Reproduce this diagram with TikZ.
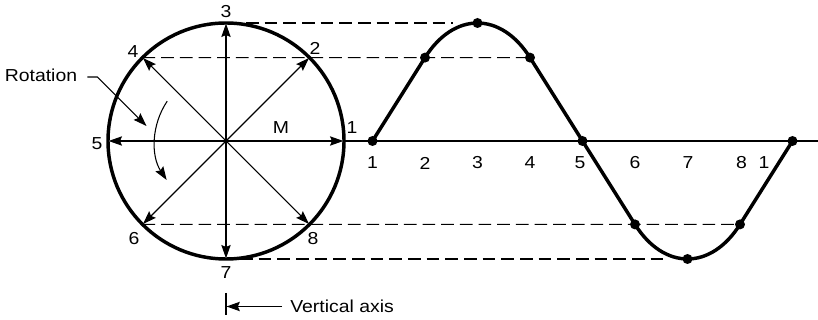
\documentclass[tikz,border=0pt]{standalone}
\usepackage{fontspec}
\setmainfont[FakeStretch=1.12]{Liberation Sans}
\usetikzlibrary{arrows.meta, calc}

\tikzset{
  heavy/.style={line width=2.6pt},
  thinline/.style={line width=0.8pt},
  ray/.style={line width=0.8pt, -{Stealth[length=10pt,width=7pt,inset=1.5pt]}},
  proj/.style={line width=0.8pt, dash pattern=on 9.5pt off 4.5pt},
  lbl/.style={inner sep=0pt, font=\fontsize{13}{15}\selectfont},
}

\begin{document}
\begin{tikzpicture}[x=0.75pt, y=-0.75pt]
    \useasboundingbox (0,0) rectangle (818,320);

    % Rotating vector circle
    \coordinate (ctr) at (226,141);
    \foreach \k in {1,...,8}
        \coordinate (c\k) at ($(ctr)+({-(\k-1)*45}:118)$);

    % Sine points
    \foreach \k/\y in {1/141, 2/57.6, 3/23, 4/57.6, 5/141, 6/224.4, 7/259, 8/224.4, 9/141}
        \coordinate (s\k) at ({372.5+(\k-1)*52.5},\y);

    % Projection lines
    \coordinate (d3) at (246,23);
    \coordinate (e3) at (453,23);
    \coordinate (d7) at (240,259);
    \coordinate (e7) at (664,259);
    \draw[proj] (d3) -- (e3);
    \draw[proj] (c4) -- (s4);
    \draw[proj] (c6) -- (s8);
    \draw[proj] (d7) -- (e7);

    % Horizontal axis
    \coordinate (axend) at (818,141);
    \draw[thinline] (c1) -- (axend);

    % Vectors
    \foreach \k in {1,...,8}
        \draw[ray, shorten >=0.5pt] (ctr) -- (c\k);
    \draw[heavy] (ctr) circle [radius=118];

    % Sine wave
    \draw[heavy, line join=round] (s1) -- (s2)
        .. controls +(29,-46.1) and +(-29,-46.1) .. (s4) -- (s6)
        .. controls +(29,46.1) and +(-29,46.1) .. (s8) -- (s9);
    \foreach \k in {1,...,9}
        \fill (s\k) circle [radius=5];

    % Circle labels
    \node[lbl] (l3) at (226,12) {3};
    \node[lbl] (l4) at (133,52) {4};
    \node[lbl] (l2) at (315,48) {2};
    \node[lbl] (l1) at (352,128) {1};
    \node[lbl] (l5) at (97,144) {5};
    \node[lbl] (lm) at (281,128) {M};
    \node[lbl] (l6) at (134,239) {6};
    \node[lbl] (l8) at (313,239) {8};
    \node[lbl] (l7) at (226,273) {7};

    % Axis labels
    \foreach \t/\x in {1/372.5, 2/425, 3/477.5, 4/530, 5/580, 6/635, 7/688, 8/741.5, 1/764}
        \node[lbl] at (\x,163) {\t};

    % Rotation
    \node[lbl] (rot) at (41,75) {Rotation};
    \coordinate (rottip) at (146.5,126);
    \draw[ray] ($(rot.east)+(10,2)$) -- ++(10,0) -- (rottip);
    \coordinate (arcstart) at ($(ctr)+(214.1:71)$);
    \draw[ray] (arcstart) arc[start angle=214.1, end angle=146.7, radius=71];

    % Vertical axis
    \coordinate (vtop) at (226,293);
    \coordinate (vbot) at (226,315);
    \coordinate (vmid) at (226.5,306.5);
    \draw[thinline] (vtop) -- (vbot);
    \node[lbl, anchor=west] (vax) at (290,306) {Vertical axis};
    \draw[ray] ($(vax.west)+(-8,0.5)$) -- (vmid);
\end{tikzpicture}
\end{document}
